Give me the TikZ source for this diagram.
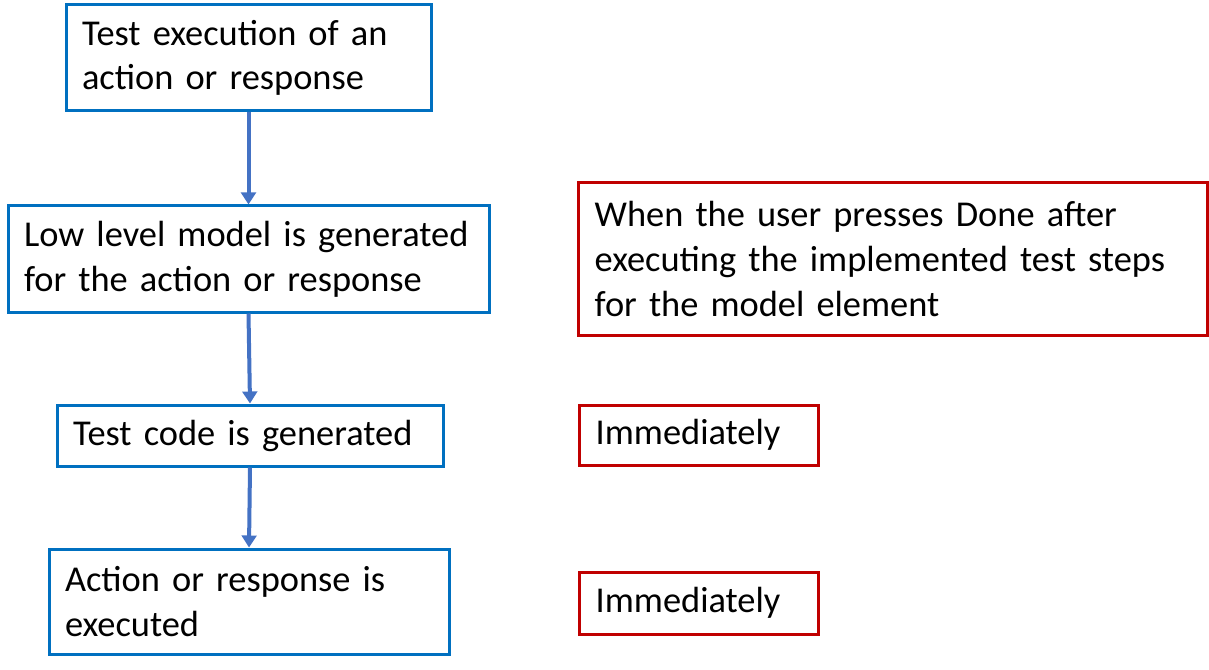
\documentclass[tikz,border=0pt]{standalone}
\usepackage{fontspec}
\setmainfont{Carlito}
\usepackage{tikz}
\usetikzlibrary{arrows.meta}

\definecolor{boxblue}{HTML}{0070C0}
\definecolor{arrowblue}{HTML}{4472C4}
\definecolor{boxred}{HTML}{C00000}

\begin{document}
\begin{tikzpicture}[
    x=0.75pt, y=-0.75pt,
    stage/.style={rectangle, draw=boxblue, line width=2.25pt, align=left,
                  inner xsep=12pt, inner ysep=0pt,
                  font=\fontsize{27.3pt}{33.5pt}\selectfont},
    trigger/.style={rectangle, draw=boxred, line width=2.25pt, align=left,
                    inner xsep=12.5pt, inner ysep=0pt,
                    font=\fontsize{27.3pt}{33.5pt}\selectfont},
    flow/.style={draw=arrowblue, line width=3pt,
                 -{Triangle[length=9pt, width=11pt]}},
]
\useasboundingbox (0,0) rectangle (1209,670);

% Left column: stages
\node[stage, minimum width=273.75pt, minimum height=79.5pt,
      text width=249.75pt] (exec) at (248.5,58) {Test execution of an\\action or response};
\node[stage, minimum width=360.75pt, minimum height=79.5pt,
      text width=336.75pt] (model) at (248.5,259) {Low level model is generated\\for the action or response};
\node[stage, minimum width=289.5pt, minimum height=45.75pt,
      text width=265.5pt] (code) at (250,435.5) {Test code is generated};
\node[stage, minimum width=300pt, minimum height=78.75pt,
      text width=276pt] (run) at (249,601.5) {Action or response is\\executed};

% Right column: when it happens
\node[trigger, minimum width=471.75pt, minimum height=114pt,
      text width=446.75pt] (done) at (892.5,259)
      {When the user presses Done after\\executing the implemented test steps\\for the model element};
\node[trigger, minimum width=179.25pt, minimum height=45pt,
      text width=154.25pt] (now1) at (698.5,435) {Immediately};
\node[trigger, minimum width=179.25pt, minimum height=46.5pt,
      text width=154.25pt] (now2) at (698.5,603) {Immediately};

% Arrows
\draw[flow] (exec.south) -- (model.north);
\draw[flow] (model.south) -- (code.north);
\draw[flow] (code.south) -- (run.north);
\end{tikzpicture}
\end{document}
